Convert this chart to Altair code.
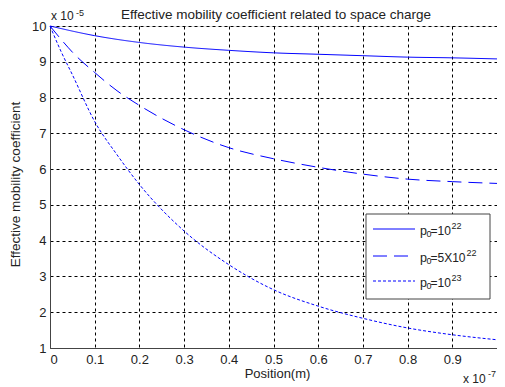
import altair as alt
import pandas as pd

FONT = "Liberation Sans"
TXT = "#222222"

# ---- data (position in units of 1e-7 m, mobility in units of 1e-5) ----
series_names = ["p0=1e22", "p0=5e22", "p0=1e23"]
legend_base = ["=10", "=5X10", "=10"]
legend_sup = ["22", "22", "23"]

x_solid = [0, 0.1, 0.2, 0.3, 0.4, 0.5, 0.6, 0.7, 0.8, 0.9, 1.0]
y_solid = [10, 9.73, 9.54, 9.41, 9.32, 9.25, 9.21, 9.17, 9.13, 9.11, 9.08]

x_dash = [0, 0.03, 0.05, 0.1, 0.15, 0.2, 0.3, 0.4, 0.5, 0.6, 0.7, 0.8, 0.9, 1.0]
y_dash = [10, 9.55, 9.27, 8.70, 8.19, 7.78, 7.10, 6.60, 6.29, 6.05, 5.86, 5.72, 5.65, 5.60]

x_dot = [0, 0.025, 0.05, 0.1, 0.15, 0.2, 0.3, 0.4, 0.5, 0.6, 0.7, 0.8, 0.9, 1.0]
y_dot = [10, 9.28, 8.64, 7.33, 6.40, 5.57, 4.27, 3.33, 2.63, 2.17, 1.83, 1.56, 1.37, 1.23]

x_ticks = [0, 0.1, 0.2, 0.3, 0.4, 0.5, 0.6, 0.7, 0.8, 0.9]
y_ticks = [1, 2, 3, 4, 5, 6, 7, 8, 9, 10]

title_text = "Effective mobility coefficient related to space charge"
x_title = "Position(m)"
y_title = "Effective mobility coefficient"
x_exp = ["x 10", "-7"]
y_exp = ["x 10", "-5"]

dash_patterns = [[1, 0], [14, 7], [3, 2]]

rows = []
for name, xs, ys in zip(series_names, [x_solid, x_dash, x_dot], [y_solid, y_dash, y_dot]):
    for xv, yv in zip(xs, ys):
        rows.append({"series": name, "x": xv, "y": yv})
df = pd.DataFrame(rows)

W, H = 447, 322
OX, OY = 50, 26  # page position of plot origin (8px margin + padding)
BLUE = "#0000ff"

axis_common = dict(grid=True, gridColor="#000000", gridDash=[3, 3], gridOpacity=1,
                   ticks=False, domainColor="#444444", labelFontSize=13,
                   labelFont=FONT, titleFont=FONT, labelColor=TXT, titleColor=TXT,
                   titleFontWeight="normal")

lines = alt.Chart(df).mark_line(strokeWidth=1, interpolate="monotone", color=BLUE).encode(
    x=alt.X("x:Q", scale=alt.Scale(domain=[0, 1], nice=False),
            axis=alt.Axis(values=x_ticks, title=x_title, format="g", titleFontSize=13,
                          labelPadding=5, titlePadding=1, titleX=277 - OX, **axis_common)),
    y=alt.Y("y:Q", scale=alt.Scale(domain=[1, 10], nice=False),
            axis=alt.Axis(values=y_ticks, title=y_title, format="d", titleFontSize=13.5,
                          labelPadding=4, titleX=15 - OX, titleY=184 - OY,
                          titleAngle=270, titleAlign="center", titleBaseline="middle",
                          **axis_common)),
    strokeDash=alt.StrokeDash("series:N", scale=alt.Scale(domain=series_names, range=dash_patterns),
                              legend=None),
    detail="series:N",
)


def txt(t, px, py, align="left", size=13):
    return alt.Chart(pd.DataFrame({"t": [t]})).mark_text(
        align=align, baseline="alphabetic", font=FONT, fontSize=size, color=TXT
    ).encode(text="t:N", x=alt.value(px - OX), y=alt.value(py - OY))


layers = [lines]
layers.append(txt(title_text, 276, 19, align="center", size=13.5))
layers.append(txt(y_exp[0], 51, 20, size=12))
layers.append(txt(y_exp[1], 76, 15.5, size=9))
layers.append(txt(x_exp[0], 463, 383, size=12))
layers.append(txt(x_exp[1], 488, 377, size=9))

# legend box
layers.append(alt.Chart(pd.DataFrame({"a": [0]})).mark_rect(
    fill="white", stroke="#444444", strokeWidth=1
).encode(x=alt.value(366 - OX), x2=alt.value(490 - OX), y=alt.value(214 - OY), y2=alt.value(299 - OY)))

row_y = [229, 256, 281]
sup_x = [451.5, 466.5, 451.5]
for base, sup, dash, ry, sx in zip(legend_base, legend_sup, dash_patterns, row_y, sup_x):
    layers.append(
        alt.Chart(pd.DataFrame({"a": [0]})).mark_rule(color=BLUE, strokeWidth=1, strokeDash=dash)
        .encode(x=alt.value(373 - OX), x2=alt.value(415 - OX), y=alt.value(ry - OY))
    )
    layers.append(txt("p", 420, ry + 6, size=12.5))
    layers.append(txt("0", 426.5, ry + 7.5, size=9))
    layers.append(txt(base, 430.5, ry + 6, size=12))
    layers.append(txt(sup, sx, ry - 0.5, size=9))

chart = alt.layer(*layers).properties(
    width=W, height=H,
    autosize=alt.AutoSizeParams(type="none"),
    padding={"left": OX - 8, "top": OY - 8, "right": 0, "bottom": 39},
).configure_view(stroke="#444444", strokeWidth=1).configure(background="white")

chart.save("out.html", embed_options={"renderer": "svg", "actions": False})
